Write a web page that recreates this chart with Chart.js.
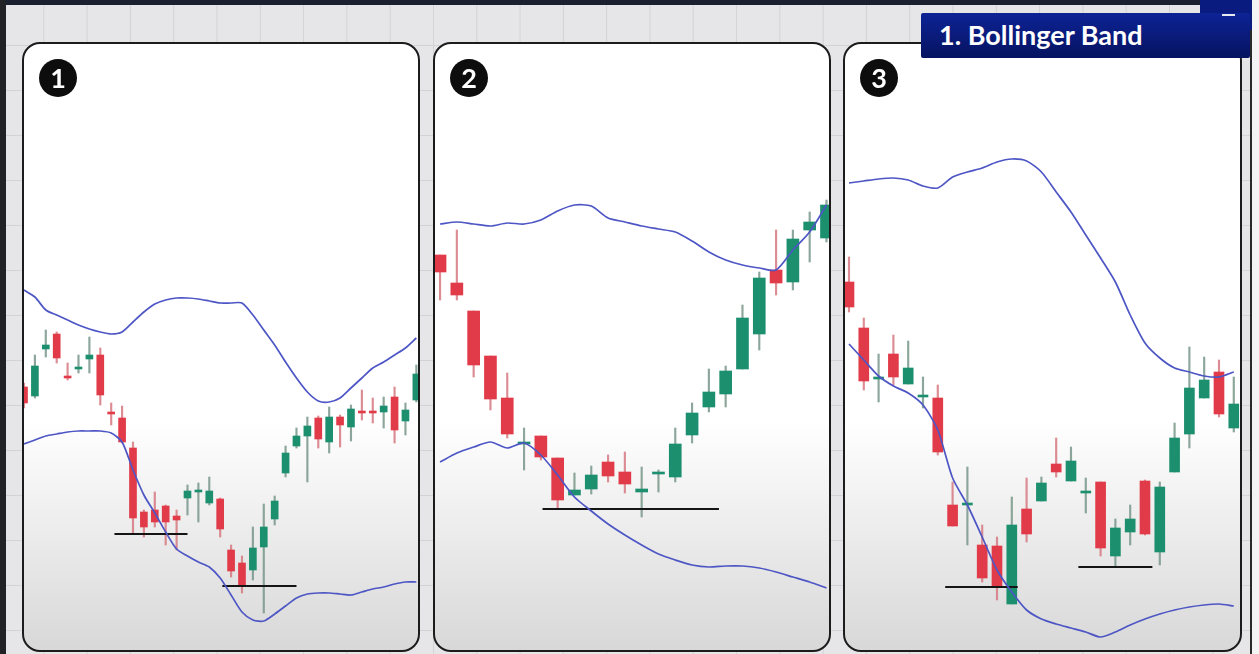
<!DOCTYPE html>
<html>
<head>
<meta charset="utf-8">
<title>1. Bollinger Band</title>
<script src="https://cdn.jsdelivr.net/npm/chart.js@4.4.0/dist/chart.umd.min.js"></script>
<style>
html, body { margin: 0; padding: 0; }
body {
    width: 1259px; height: 654px; overflow: hidden; position: relative;
    background-color: #e6e6e8;
    background-image: linear-gradient(to right, #d3d3d6 1px, transparent 1px),
                      linear-gradient(to bottom, #d3d3d6 1px, transparent 1px);
    background-size: 43.3px 45px;
    font-family: Lato, 'Open Sans', sans-serif;
}
.frameTop { position: absolute; left: 0; top: 0; width: 1252px; height: 5px; background: #1b2030; }
.frameLeft { position: absolute; left: 0; top: 0; width: 6px; height: 654px; background: #202226; }
.frameRight { position: absolute; left: 1250px; top: 0; width: 2px; height: 654px; background: #2a2a2a; }
.rightStrip { position: absolute; left: 1252px; top: 0; width: 7px; height: 654px; background: #f4f4f4; }
.panel {
    position: absolute; top: 42px; height: 606px;
    border: 2px solid #1c1c1c; border-radius: 18px; overflow: hidden;
    background: linear-gradient(to bottom, #ffffff 0%, #ffffff 62%, #d8d8d8 100%);
}
.panel canvas { position: absolute; left: 0; top: 0; display: block; }
.badge {
    position: absolute; left: 15px; top: 15px; width: 38px; height: 38px; border-radius: 50%;
    background: #0d0d0d; color: #fff; font-weight: 700; font-size: 27px;
    line-height: 38px; text-align: center;
}
.title {
    position: absolute; left: 921px; top: 13px; width: 329px; height: 45px;
    background: linear-gradient(to bottom, #0d2396, #061360);
    color: #fff; font-weight: 700; font-size: 27px; line-height: 44px;
    box-sizing: border-box; padding-left: 18px; border-radius: 2px;
}
.titleBump { position: absolute; left: 1200px; top: 0; width: 52px; height: 30px; background: #0a1b80; }
.titleDash { position: absolute; left: 1222px; top: 14px; width: 13px; height: 2px; background: #e8e8f0; }
</style>
</head>
<body>
<div class="frameTop"></div>
<div class="frameLeft"></div>
<div class="rightStrip"></div>
<div class="frameRight"></div>

<div class="panel" style="left:22px; width:394px;">
    <canvas id="chart1" width="394" height="606"></canvas>
    <div class="badge">1</div>
</div>
<div class="panel" style="left:433px; width:394px;">
    <canvas id="chart2" width="394" height="606"></canvas>
    <div class="badge">2</div>
</div>
<div class="panel" style="left:843px; width:395px;">
    <canvas id="chart3" width="395" height="606"></canvas>
    <div class="badge">3</div>
</div>

<div class="titleBump"></div>
<div class="title">1. Bollinger Band</div>
<div class="titleDash"></div>

<script>
// ---- panel 1 ----
var p1Open  = [273,264,311,326,284,291,301,305,248,242,212,148,150,154,144,162,168,157,161,110,97,90,113,141,187,214,224,242,218,243,233,249,249,248,263,239,260];
var p1High  = [277,305,330,328,297,305,323,312,257,254,218,150,168,155,150,175,177,183,162,115,104,133,156,164,214,232,243,244,253,245,255,270,262,263,273,257,295];
var p1Low   = [252,262,303,297,280,287,287,255,235,217,127,123,133,115,110,145,138,155,123,83,67,80,47,135,183,212,178,212,207,213,219,240,237,232,217,225,258];
var p1Close = [257,294,315,302,282,293,305,265,246,218,142,133,138,138,140,169,170,169,131,89,74,112,133,159,207,224,234,221,243,235,251,247,247,254,230,250,286];
var p1Upper = [370,363,350,345,340,335,331,328,326,328,338,348,356,360,362,362,361,359,357,357,357,345,330,315,298,282,268,259,258,262,272,282,292,298,305,312,322];
var p1Lower = [216,220,224,226,228,229,229,229,227,218,190,165,147,128,111,104,98,93,82,65,48,40,39,46,54,62,66,67,67,66,65,68,71,73,76,78,78];
var p1SupportLevel = [126, 74];
var p1SupportFrom  = [8.3, 18.2];
var p1SupportTo    = [15, 25];

// ---- panel 2 ----
var p2Open  = [405,377,349,304,262,216,224,202,165,171,198,188,168,186,183,225,253,266,291,326,390,378,430,422];
var p2High  = [405,430,349,304,287,232,224,202,187,194,205,208,193,190,232,257,291,294,355,388,430,430,448,460];
var p2Low   = [360,360,283,250,222,190,200,151,165,166,178,167,143,168,178,217,248,253,291,310,365,370,398,418];
var p2Close = [388,365,295,261,226,218,203,160,170,185,184,176,171,188,216,247,268,289,342,382,377,421,438,455];
var p2Upper = [436,438,436,434,437,436,440,449,455,454,442,438,434,431,428,419,408,400,395,392,390,410,428,455];
var p2Lower = [198,207,213,218,212,217,205,185,163,149,136,125,115,106,100,95,93,94,94,92,88,83,78,72];
var p2SupportLevel = [151];
var p2SupportFrom  = [6.1];
var p2SupportTo    = [16.6];

// ---- panel 3 ----
var p3Open  = [378,332,281,306,276,263,262,155,155,115,114,56,151,159,196,179,167,178,104,128,179,108,188,226,262,288,232];
var p3High  = [403,342,306,325,319,283,275,178,193,135,123,163,182,183,222,213,182,178,141,155,180,178,237,313,303,300,283];
var p3Low   = [348,270,258,275,276,252,205,134,115,78,60,56,118,159,183,179,147,104,94,115,125,95,188,212,262,243,228];
var p3Close = [353,279,283,283,292,265,208,134,157,82,73,135,126,177,188,199,169,112,132,141,126,173,222,272,280,246,256];
var p3Upper = [477,479,481,482,480,474,472,483,488,492,498,501,499,488,468,448,425,402,378,345,317,302,292,288,284,283,288];
var p3Lower = [316,300,284,274,267,255,230,182,155,123,90,68,50,41,36,32,28,23,28,35,41,46,50,53,55,56,54];
var p3SupportLevel = [73, 93];
var p3SupportFrom  = [6.5, 15.5];
var p3SupportTo    = [11.4, 20.5];

var RED = '#e13a48';
var GREEN = '#1c8f6f';
var RED_WICK = 'rgba(214,120,128,0.85)';
var GREEN_WICK = 'rgba(120,150,138,0.85)';
var BAND = '#4d56c4';

function toPoints(values) {
    return values.map(function (v, i) { return {x: i, y: v}; });
}

function makeChart(id, o, h, l, c, upper, lower, sLevel, sFrom, sTo, bodyWidth, xMin, xMax) {
    var bodies = [], wicks = [], bodyColors = [], wickColors = [];
    for (var i = 0; i < o.length; i++) {
        bodies.push({x: i, y: [o[i], c[i]]});
        wicks.push({x: i, y: [l[i], h[i]]});
        var up = c[i] >= o[i];
        bodyColors.push(up ? GREEN : RED);
        wickColors.push(up ? GREEN_WICK : RED_WICK);
    }

    var datasets = [
        {type: 'line', data: toPoints(upper), borderColor: BAND, borderWidth: 1.7, pointRadius: 0, tension: 0.25, order: 0},
        {type: 'line', data: toPoints(lower), borderColor: BAND, borderWidth: 1.7, pointRadius: 0, tension: 0.25, order: 0}
    ];
    for (var k = 0; k < sLevel.length; k++) {
        datasets.push({
            type: 'line',
            data: [{x: sFrom[k], y: sLevel[k]}, {x: sTo[k], y: sLevel[k]}],
            borderColor: '#151515', borderWidth: 2, pointRadius: 0, order: 0
        });
    }
    datasets.push({type: 'bar', data: bodies, backgroundColor: bodyColors, barThickness: bodyWidth, grouped: false, order: 1});
    datasets.push({type: 'bar', data: wicks, backgroundColor: wickColors, barThickness: 1.5, grouped: false, order: 2});

    return new Chart(document.getElementById(id).getContext('2d'), {
        type: 'bar',
        data: {datasets: datasets},
        options: {
            responsive: false,
            animation: false,
            events: [],
            layout: {padding: 0},
            plugins: {legend: {display: false}, tooltip: {enabled: false}},
            scales: {
                x: {type: 'linear', min: xMin, max: xMax, offset: false, display: false},
                y: {min: 10, max: 616, display: false}
            }
        }
    });
}

makeChart('chart1', p1Open, p1High, p1Low, p1Close, p1Upper, p1Lower, p1SupportLevel, p1SupportFrom, p1SupportTo, 7, 0, 36.15);
makeChart('chart2', p2Open, p2High, p2Low, p2Close, p2Upper, p2Lower, p2SupportLevel, p2SupportFrom, p2SupportTo, 12, -0.3, 23.15);
makeChart('chart3', p3Open, p3High, p3Low, p3Close, p3Upper, p3Lower, p3SupportLevel, p3SupportFrom, p3SupportTo, 10, -0.27, 26.42);
</script>
</body>
</html>
